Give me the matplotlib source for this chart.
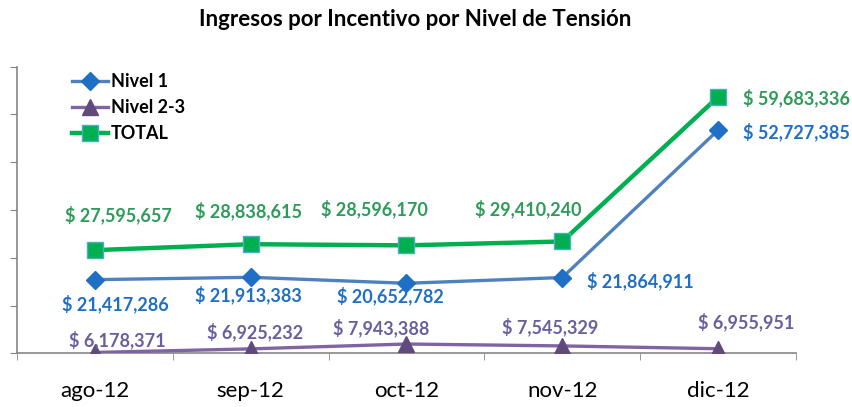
import matplotlib
matplotlib.use("Agg")
import matplotlib.pyplot as plt
import numpy as np

# data
months = ["ago-12", "sep-12", "oct-12", "nov-12", "dic-12"]
nivel1 = [21417286, 21913383, 20652782, 21864911, 52727385]
nivel23 = [6178371, 6925232, 7943388, 7545329, 6955951]
total = [27595657, 28838615, 28596170, 29410240, 59683336]

plt.rcParams['font.family'] = ['Lato', 'DejaVu Sans']

fig = plt.figure(figsize=(8.53, 4.07), dpi=100)
ax = fig.add_axes([17/853, 1 - 353.3/407, (796-17)/853, (353.3-66.7)/407])

x = np.arange(len(months))

ax.plot(x, nivel1, color='#4F81BD', lw=2.4, marker='D', ms=9.5,
        mfc='#1F6FC5', mec='#1F6FC5', label='Nivel 1', zorder=3)
ax.plot(x, nivel23, color='#8064A2', lw=2.4, marker='^', ms=11,
        mfc='#604A7B', mec='#604A7B', label='Nivel 2-3', zorder=3)
ax.plot(x, total, color='#00B050', lw=3.2, marker='s', ms=11,
        mfc='#00B050', mec='#4BACC6', mew=1.0, label='TOTAL', zorder=4)

# label offsets (pixels) and alignment, roughly as placed in the original
off_total = [(24, 35, 'center'), (-2, 33, 'center'), (-32, 36, 'center'), (-34, 33, 'center'), (25, -1, 'left')]
off_n1 = [(20, -24, 'center'), (-2, -18, 'center'), (-16, -13, 'center'), (25, -3, 'left'), (25, -2, 'left')]
off_n23 = [(22, 13, 'center'), (4, 17, 'center'), (-25, 16, 'center'), (-12, 19, 'center'), (28, 27, 'center')]

def put_labels(vals, offs, color):
    for i, v in enumerate(vals):
        dx, dy, ha = offs[i]
        ax.annotate("$ {:,}".format(v), xy=(i, v), xytext=(dx, dy),
                    textcoords='offset pixels', ha=ha, va='center',
                    fontsize=13, fontweight='bold', color=color)

put_labels(total, off_total, '#2E9B5A')
put_labels(nivel1, off_n1, '#1F6FC5')
put_labels(nivel23, off_n23, '#6B5E9E')

ax.set_xlim(-0.5, 4.5)
ax.set_ylim(6000000, 66000000)
ax.set_yticks(np.arange(6000000, 66000001, 10000000))
ax.set_yticklabels([])
ax.set_xticks(x)
ax.set_xticklabels(months, fontsize=16)
ax.set_xticks(np.arange(-0.5, 5, 1), minor=True)
ax.tick_params(axis='x', which='major', length=0, pad=20)
ax.tick_params(axis='x', which='minor', length=5, color='#868686', direction='out')
ax.tick_params(axis='y', length=5, color='#868686', direction='out')

for s in ['top', 'right']:
    ax.spines[s].set_visible(False)
for s in ['left', 'bottom']:
    ax.spines[s].set_color('#868686')
    ax.spines[s].set_linewidth(1.2)

leg = ax.legend(loc='upper left', bbox_to_anchor=(72/853, 1 - 73/407),
                bbox_transform=fig.transFigure, frameon=False,
                prop={'weight': 'bold', 'size': 13}, handlelength=2.0,
                handletextpad=0.15, labelspacing=0.5, borderpad=0,
                borderaxespad=0)

fig.text(415/853, 1 - 19/407, "Ingresos por Incentivo por Nivel de Tensión",
         ha='center', va='center', fontsize=16, fontweight='bold')

fig.savefig("out.png", dpi=100)
